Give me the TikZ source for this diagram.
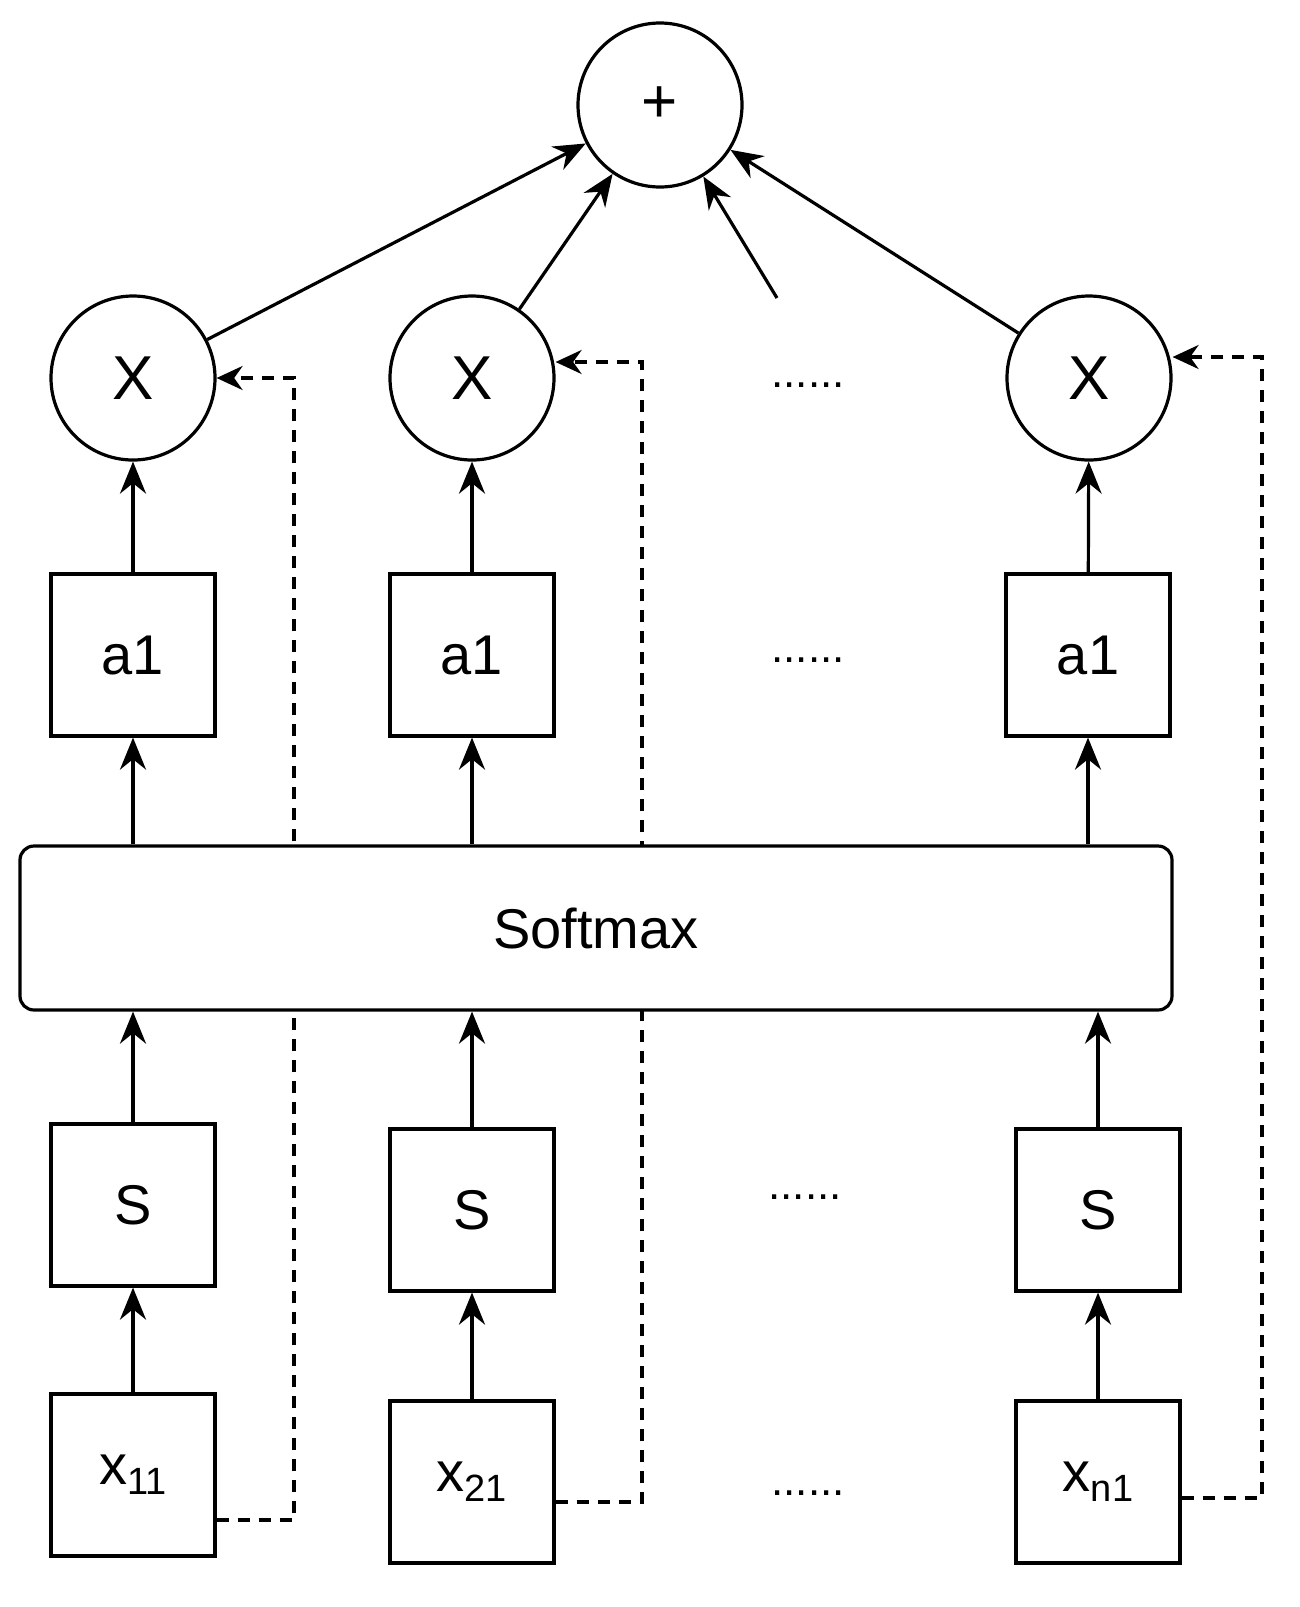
\documentclass[tikz,border=0pt]{standalone}
\usepackage{fontspec}
\setmainfont{Liberation Sans}
\usetikzlibrary{arrows.meta}
\newcommand{\mysub}[1]{\raisebox{-0.35ex}{\fontsize{38}{40}\selectfont #1}}
\begin{document}
\begin{tikzpicture}[x=1pt,y=-1pt,line width=3.2pt,
 arr/.style={-{Stealth[length=32pt,width=26pt]}},
 darr/.style={dashed,dash pattern=on 12pt off 9pt,-{Stealth[length=26pt,width=24pt]}},
 circ/.style={circle,draw,minimum size=164pt,inner sep=0pt,font=\fontsize{62}{64}\selectfont},
 box/.style={draw,minimum width=164pt,minimum height=162pt,inner sep=0pt,font=\fontsize{56}{58}\selectfont},
 dots/.style={font=\fontsize{44}{44}\selectfont}]
\useasboundingbox (0,0) rectangle (1299,1607);
\node[circ] (p) at (660,105) {+};
\node[circ] (m1) at (133,378) {X};
\node[circ] (m2) at (472,378) {X};
\node[circ] (m3) at (1089,378) {X};
\node[box] (a1) at (133,655) {a1};
\node[box] (a2) at (472,655) {a1};
\node[box] (a3) at (1088,655) {a1};
\node[box] (s1) at (133,1205) {S};
\node[box] (s2) at (472,1210) {S};
\node[box] (s3) at (1098,1210) {S};
\node[box] (x1) at (133,1475) {x\mysub{11}};
\node[box] (x2) at (472,1482) {x\mysub{21}};
\node[box] (x3) at (1098,1482) {x\mysub{n1}};
\node[dots] at (808,385) {......};
\node[dots] at (808,660) {......};
\node[dots] at (805,1197) {......};
\node[dots] at (808,1493) {......};
% dashed
\coordinate (d1a) at (294,1520); \coordinate (d1b) at (294,378);
\coordinate (d2a) at (642,1502); \coordinate (d2b) at (642,362);
\coordinate (d3a) at (1262,1498); \coordinate (d3b) at (1262,357);
\draw[darr] (x1.east|-d1a) -- (d1a) -- (d1b) -- (m1.east|-d1b);
\draw[darr] (x2.east|-d2a) -- (d2a) -- (d2b) -- (m2.east|-d2b);
\draw[darr] (x3.east|-d3a) -- (d3a) -- (d3b) -- (m3.east|-d3b);
\node[draw,fill=white,rounded corners=14pt,minimum width=1152pt,minimum height=164pt,font=\fontsize{56}{58}\selectfont] (sm) at (596,928) {Softmax};
% arrows
\foreach \i in {1,2,3}{
 \draw[arr] (x\i) -- (s\i);
 \draw[arr] (s\i.north) -- (s\i.north|-sm.south);
 \draw[arr] (a\i.south|-sm.north) -- (a\i);
 \draw[arr] (a\i) -- (m\i);
}
\draw[arr] (m1) -- (p);
\draw[arr] (m2) -- (p);
\draw[arr] (m3) -- (p);
\coordinate (fr) at (777,298);
\draw[arr] (fr) -- (p);
\end{tikzpicture}
\end{document}
